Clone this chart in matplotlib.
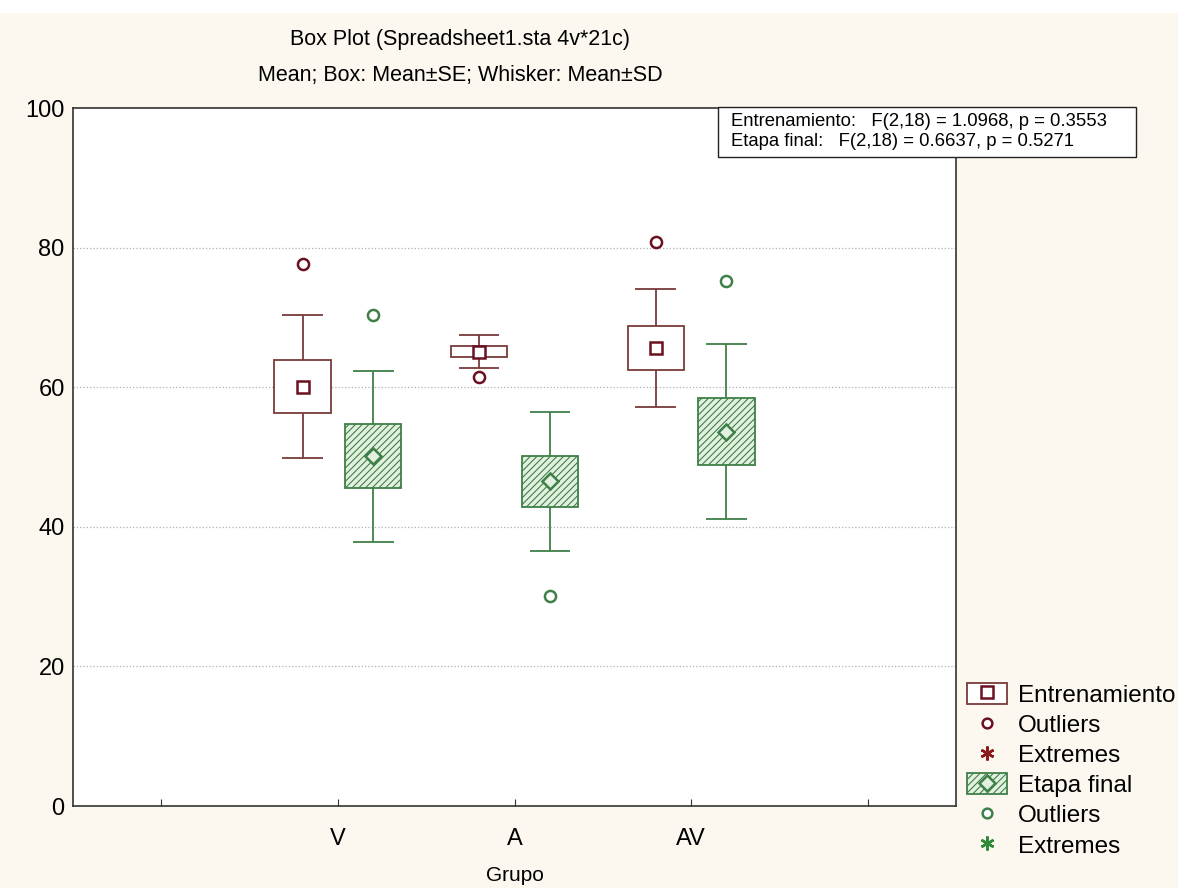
import numpy as np
import matplotlib
matplotlib.use('Agg')
import matplotlib.pyplot as plt
from matplotlib.patches import Patch, Rectangle
from matplotlib.lines import Line2D

plt.rcParams['font.family'] = ['Liberation Sans', 'DejaVu Sans']
plt.rcParams['hatch.linewidth'] = 0.8

# grupos y estadisticos (media, error estandar, desviacion estandar)
grupos = ['V', 'A', 'AV']
ent_media = [60.1, 65.1, 65.6]
ent_se = [3.8, 0.8, 3.2]
ent_sd = [10.3, 2.35, 8.5]
ent_outliers = [77.6, 61.4, 80.8]

fin_media = [50.1, 46.5, 53.65]
fin_se = [4.6, 3.7, 4.75]
fin_sd = [12.25, 9.9, 12.55]
fin_outliers = [70.3, 30.1, 75.2]

texto_f = ['Entrenamiento:   F(2,18) = 1.0968, p = 0.3553',
           'Etapa final:   F(2,18) = 0.6637, p = 0.5271']

fondo = '#fcf8ef'
rojo = '#7a3a3a'
rojo_osc = '#6a1020'
verde = '#3f7f48'
verde_claro = '#e2f1df'

W, H = 1178, 888
fig = plt.figure(figsize=(W / 100, H / 100), dpi=100, facecolor=fondo)
# franja blanca superior
fig.add_artist(Rectangle((0, 1 - 13 / H), 1, 13 / H, transform=fig.transFigure,
                         facecolor='white', edgecolor='none', zorder=0))

ax = fig.add_axes([73 / W, 82 / H, 883 / W, 698 / H])
ax.set_facecolor('white')

x = np.arange(1, len(grupos) + 1)
ancho = 0.32
cap = 0.23
off = 0.2


def dibujar(xs, media, se, sd, outl, color, face, hatch, marker, mcolor, mface):
    media = np.array(media)
    se = np.array(se)
    sd = np.array(sd)
    ax.vlines(xs, media - sd, media + sd, color=color, lw=1.3, zorder=2)
    ax.hlines(media - sd, xs - cap / 2, xs + cap / 2, color=color, lw=1.3, zorder=2)
    ax.hlines(media + sd, xs - cap / 2, xs + cap / 2, color=color, lw=1.3, zorder=2)
    ax.bar(xs, 2 * se, bottom=media - se, width=ancho, facecolor=face,
           edgecolor=color, hatch=hatch, lw=1.3, zorder=3)
    ax.plot(xs, media, ls='none', marker=marker, ms=8.5, mew=1.8,
            mec=mcolor, mfc=mface, zorder=4)
    ax.plot(xs, outl, ls='none', marker='o', ms=8, mew=1.8,
            mec=mcolor, mfc='white', zorder=4)


dibujar(x - off, ent_media, ent_se, ent_sd, ent_outliers, rojo, 'white', None,
        's', rojo_osc, 'white')
dibujar(x + off, fin_media, fin_se, fin_sd, fin_outliers, verde, verde_claro, '/////',
        'D', verde, verde_claro)

ax.set_xlim(-0.5, 4.5)
ax.set_ylim(0, 100)
ax.set_xticks(range(5))
ax.set_xticklabels([''] + grupos + [''])
ax.set_yticks(range(0, 101, 20))
ax.tick_params(axis='x', direction='in', length=5, labelsize=17, pad=16, color='#333333')
ax.tick_params(axis='y', length=0, labelsize=17, pad=6)
for v in [20, 40, 60, 80]:
    ax.axhline(v, color='#b0b0b0', ls=':', lw=0.9, zorder=1)
for s in ax.spines.values():
    s.set_color('#333333')
    s.set_linewidth(1.2)

fig.text(460 / W, 1 - 40 / H, 'Box Plot (Spreadsheet1.sta 4v*21c)', ha='center', va='center', fontsize=15.5)
fig.text(460 / W, 1 - 75 / H, 'Mean; Box: Mean±SE; Whisker: Mean±SD', ha='center', va='center', fontsize=15.5)
fig.text(515 / W, 1 - 875 / H, 'Grupo', ha='center', va='center', fontsize=15)

# recuadro con los resultados F
fig.add_artist(Rectangle((718 / W, 1 - 157 / H), 418 / W, 50 / H, transform=fig.transFigure,
                         facecolor='white', edgecolor='#222222', lw=1.0, zorder=5))
fig.text(731 / W, 1 - 122 / H, texto_f[0], ha='left', va='center', fontsize=13.3, zorder=6)
fig.text(731 / W, 1 - 142 / H, texto_f[1], ha='left', va='center', fontsize=13.3, zorder=6)

asterisco = (6, 2, 0)
handles = [
    (Patch(facecolor='white', edgecolor=rojo, lw=1.3),
     Line2D([], [], ls='none', marker='s', ms=8, mew=1.8, mec=rojo_osc, mfc='white')),
    Line2D([], [], ls='none', marker='o', ms=7, mew=1.8, mec=rojo_osc, mfc='white'),
    Line2D([], [], ls='none', marker=asterisco, ms=10, mew=1.8, mec='#8b1a1a'),
    (Patch(facecolor=verde_claro, edgecolor=verde, hatch='/////', lw=1.3),
     Line2D([], [], ls='none', marker='D', ms=8, mew=1.8, mec=verde, mfc=verde_claro)),
    Line2D([], [], ls='none', marker='o', ms=7, mew=1.8, mec=verde, mfc='white'),
    Line2D([], [], ls='none', marker=asterisco, ms=10, mew=1.8, mec='#2e8b3a'),
]
labels = ['Entrenamiento', 'Outliers', 'Extremes', 'Etapa final', 'Outliers', 'Extremes']
fig.legend(handles, labels, loc='upper left', bbox_to_anchor=(967 / W, 1 - 683 / H),
           frameon=False, fontsize=17.5, handlelength=1.65, handleheight=0.95,
           handletextpad=0.45, labelspacing=0.26, borderaxespad=0, borderpad=0)

fig.savefig('out.png', dpi=100, facecolor=fondo)
